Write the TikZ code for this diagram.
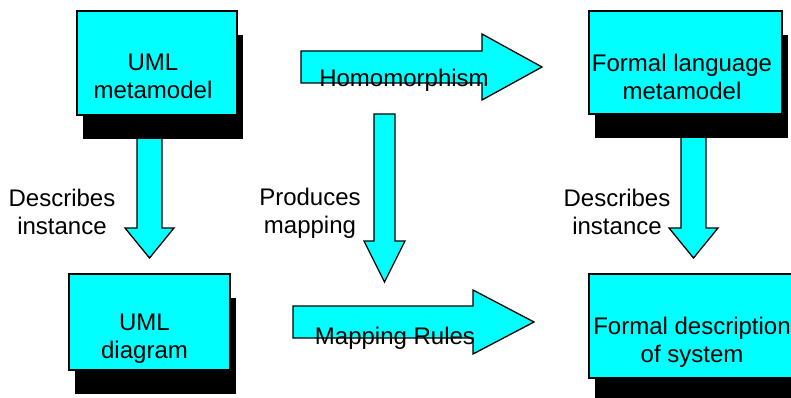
\documentclass[tikz,border=0pt]{standalone}
\usepackage{fontspec}
\setmainfont{Liberation Sans}
\usetikzlibrary{shadows}
\definecolor{boxcyan}{RGB}{0,255,255}

\begin{document}
\begin{tikzpicture}[x=1pt, y=-1pt, line width=1.3pt,
  box/.style={draw, fill=boxcyan, drop shadow={shadow xshift=6pt, shadow yshift=-24pt, fill=black, opacity=1}},
  blockarrow/.style={draw, fill=boxcyan, line join=miter},
  txt/.style={font=\fontsize{24}{28}\selectfont, align=center, inner sep=0pt}]
\clip (0,0) rectangle (791,398);
\fill[white] (0,0) rectangle (791,398);

% block arrows (behind the boxes)
\draw[blockarrow] (137,130) -- (162,130) -- (162,228) -- (174,228) -- (149.5,258) -- (125,228) -- (137,228) -- cycle;
\draw[blockarrow] (681,130) -- (706,130) -- (706,228) -- (718,228) -- (693.5,258) -- (669,228) -- (681,228) -- cycle;
\draw[blockarrow] (374,114) -- (395,114) -- (395,241) -- (405,241) -- (384.5,282) -- (364,241) -- (374,241) -- cycle;
\draw[blockarrow] (301,51) -- (482,51) -- (482,34) -- (542,67) -- (482,100) -- (482,83) -- (301,83) -- cycle;
\draw[blockarrow] (293,306) -- (473,306) -- (473,290) -- (534,322) -- (473,354) -- (473,338) -- (293,338) -- cycle;

% boxes
\node[box, minimum width=160pt, minimum height=104pt] (umlmeta) at (157,63) {};
\node[box, minimum width=193pt, minimum height=103pt] (formalmeta) at (685.5,62.5) {};
\node[box, minimum width=161pt, minimum height=96pt] (umldiag) at (149.5,322) {};
\node[box, minimum width=206pt, minimum height=104pt] (formaldesc) at (692,326) {};

\node[txt] (umlmetatext) at (153,76.5) {UML\\metamodel};
\node[txt] (formalmetatext) at (682,77) {Formal language\\metamodel};
\node[txt] (umldiagtext) at (144.5,339) {UML\\diagram};
\node[txt] (formaldesctext) at (692,342.5) {Formal description\\of system};

% arrow labels
\node[txt, anchor=base] (homo) at (404,87) {Homomorphism};
\node[txt, anchor=base] (maprules) at (395,344) {Mapping Rules};
\node[txt] (descleft) at (62,211.5) {Describes\\instance};
\node[txt] (produces) at (310,213.5) {Produces\\mapping};
\node[txt] (descright) at (617,211.5) {Describes\\instance};
\end{tikzpicture}
\end{document}
